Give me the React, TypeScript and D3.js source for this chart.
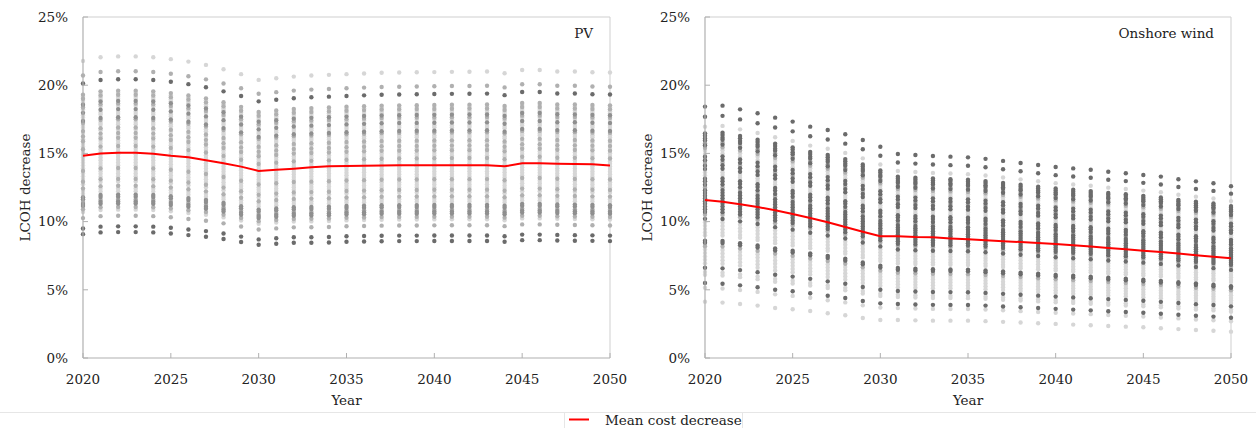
import React from "react";
import * as d3 from "d3";

const years = [2020, 2021, 2022, 2023, 2024, 2025, 2026, 2027, 2028, 2029, 2030, 2031, 2032, 2033, 2034, 2035, 2036, 2037, 2038, 2039, 2040, 2041, 2042, 2043, 2044, 2045, 2046, 2047, 2048, 2049, 2050];
const xTicks = [2020, 2025, 2030, 2035, 2040, 2045, 2050];
const yTicks = [0, 5, 10, 15, 20, 25];

// PV panel
const pvMean = [14.83, 15.0, 15.05, 15.05, 14.98, 14.83, 14.71, 14.5, 14.27, 14.03, 13.71, 13.8, 13.88, 13.98, 14.05, 14.08, 14.1, 14.12, 14.13, 14.13, 14.14, 14.14, 14.14, 14.13, 14.05, 14.28, 14.27, 14.25, 14.22, 14.2, 14.12];
const pvHigh = [21.77, 22.04, 22.1, 22.1, 22.04, 21.9, 21.72, 21.48, 21.16, 20.8, 20.38, 20.5, 20.62, 20.7, 20.75, 20.8, 20.85, 20.9, 20.92, 20.94, 20.95, 20.97, 20.98, 20.99, 20.87, 21.11, 21.11, 20.99, 20.99, 20.94, 20.92];
const pvLow = [9.06, 9.19, 9.21, 9.21, 9.19, 9.11, 8.99, 8.87, 8.7, 8.48, 8.28, 8.36, 8.43, 8.43, 8.45, 8.5, 8.52, 8.54, 8.55, 8.55, 8.56, 8.56, 8.56, 8.56, 8.5, 8.62, 8.62, 8.6, 8.58, 8.57, 8.55];
// scenario values read at 2021 column (ref high 22.04, low 9.19)
const pvScenarioValues = [22.05, 20.97, 20.38, 19.55, 19.4, 19.25, 19.1, 18.95, 18.8, 18.6, 18.45, 18.2, 18.0, 17.85, 17.6, 17.45, 17.25, 17.1, 16.85, 16.7, 16.45, 16.25, 16.1, 15.9, 15.7, 15.5, 15.3, 15.1, 14.9, 14.7, 14.5, 14.3, 14.1, 13.9, 13.7, 13.5, 13.3, 13.1, 12.9, 12.6, 12.4, 12.2, 11.95, 11.8, 11.6, 11.45, 11.3, 11.05, 10.85, 10.4, 9.63, 9.21];
const pvScenarioShade = ["light", "mid", "dark", "mid", "light", "mid", "light", "light", "semi", "mid", "light", "semi", "light", "light", "semi", "mid", "light", "light", "mid", "light", "mid", "light", "mid", "light", "light", "mid", "light", "light", "light", "light", "light", "light", "light", "mid", "light", "light", "light", "mid", "light", "mid", "light", "light", "semi", "semi", "mid", "semi", "semi", "mid", "light", "mid", "dark", "dark"];

// Onshore wind panel
const windMean = [11.58, 11.46, 11.27, 11.07, 10.83, 10.56, 10.26, 9.95, 9.6, 9.26, 8.92, 8.92, 8.87, 8.85, 8.77, 8.7, 8.63, 8.56, 8.5, 8.43, 8.35, 8.27, 8.17, 8.07, 7.97, 7.87, 7.77, 7.66, 7.54, 7.42, 7.31];
const windHigh = [18.43, 18.5, 18.23, 17.94, 17.62, 17.33, 16.96, 16.72, 16.4, 15.98, 15.49, 14.96, 14.88, 14.81, 14.76, 14.71, 14.6, 14.45, 14.3, 14.15, 14.0, 13.9, 13.8, 13.65, 13.55, 13.42, 13.3, 13.1, 12.95, 12.81, 12.6];
const windLow = [4.13, 4.06, 3.96, 3.84, 3.67, 3.57, 3.45, 3.28, 3.13, 2.93, 2.79, 2.79, 2.76, 2.74, 2.74, 2.74, 2.7, 2.65, 2.6, 2.55, 2.5, 2.45, 2.4, 2.35, 2.3, 2.25, 2.18, 2.12, 2.05, 2.0, 1.93];
// scenario values read at 2020 column (ref high 18.43, low 4.13)
const windScenarioValues = [18.43, 17.69, 16.96, 16.47, 16.3, 16.1, 15.95, 15.75, 15.6, 15.4, 15.2, 14.95, 14.75, 14.5, 14.3, 14.1, 13.85, 13.6, 13.4, 13.15, 12.95, 12.7, 12.5, 12.3, 12.1, 11.9, 11.7, 11.5, 11.3, 11.1, 10.9, 10.7, 10.5, 10.2, 9.95, 9.7, 9.45, 9.2, 9.0, 8.6, 8.45, 8.2, 7.95, 7.7, 7.45, 7.2, 6.95, 6.62, 6.3, 6.1, 5.5, 5.15, 4.13];
const windScenarioShade = ["dark", "dark", "light", "dark", "dark", "dark", "dark", "mid", "dark", "mid", "light", "light", "dark", "dark", "mid", "dark", "dark", "light", "light", "dark", "dark", "dark", "mid", "dark", "dark", "dark", "dark", "dark", "dark", "dark", "dark", "dark", "mid", "dark", "light", "light", "light", "light", "light", "dark", "dark", "mid", "light", "light", "light", "light", "light", "dark", "light", "light", "dark", "light", "light"];

const shadeColor: Record<string, string> = { light: "#d6d6d6", mid: "#b0b0b0", semi: "#8f8f8f", dark: "#6b6b6b" };
const shadeOrder: Record<string, number> = { light: 0, mid: 1, semi: 2, dark: 3 };

const FONT = "'DejaVu Serif', serif";
const FS = 13.5;

type PanelProps = {
  x0: number; x1: number; title: string;
  mean: number[]; high: number[]; low: number[];
  scen: number[]; shade: string[]; refIdx: number;
};

function Panel({ x0, x1, title, mean, high, low, scen, shade, refIdx }: PanelProps) {
  const x = d3.scaleLinear().domain([2020, 2050]).range([x0, x1]);
  const y = d3.scaleLinear().domain([0, 25]).range([358, 17]);
  const line = d3.line<number>().x((_, i) => x(years[i])).y((d) => y(d));
  const refHi = high[refIdx];
  const refLo = low[refIdx];
  const dots: { cx: number; cy: number; s: string }[] = [];
  years.forEach((yr, i) => {
    scen.forEach((v, k) => {
      const rel = (v - refLo) / (refHi - refLo);
      const val = low[i] + rel * (high[i] - low[i]);
      dots.push({ cx: x(yr), cy: y(val), s: shade[k] });
    });
  });
  dots.sort((a, b) => shadeOrder[a.s] - shadeOrder[b.s]);
  const [r0, r1] = y.range();
  const midX = (x0 + x1) / 2;
  return (
    <g>
      <line x1={x0} x2={x1} y1={r1} y2={r1} stroke="#cfcfcf" strokeWidth={1} />
      <line x1={x1} x2={x1} y1={r1} y2={r0} stroke="#cfcfcf" strokeWidth={1} />
      {dots.map((d, i) => (
        <circle key={i} cx={d.cx} cy={d.cy} r={2.2} fill={shadeColor[d.s]} />
      ))}
      <line x1={x0} x2={x0} y1={r1} y2={r0} stroke="#b0b0b0" strokeWidth={1.2} />
      <line x1={x0} x2={x1} y1={r0} y2={r0} stroke="#b0b0b0" strokeWidth={1.2} />
      {yTicks.map((t) => (
        <g key={t}>
          <line x1={x0} x2={x0 + 5} y1={y(t)} y2={y(t)} stroke="#b0b0b0" />
          <text x={x0 - 15} y={y(t)} dy="0.36em" textAnchor="end" fontFamily={FONT} fontSize={FS} fill="#222">
            {t}%
          </text>
        </g>
      ))}
      {xTicks.map((t) => (
        <g key={t}>
          <line x1={x(t)} x2={x(t)} y1={r0} y2={r0 - 5} stroke="#b0b0b0" />
          <text x={x(t)} y={384} textAnchor="middle" fontFamily={FONT} fontSize={FS} fill="#222">
            {t}
          </text>
        </g>
      ))}
      <path d={line(mean) || ""} fill="none" stroke="#ff0000" strokeWidth={2} />
      <text x={midX} y={405} textAnchor="middle" fontFamily={FONT} fontSize={FS} fill="#222">Year</text>
      <text transform={`translate(${x0 - 53},${(r0 + r1) / 2}) rotate(-90)`} textAnchor="middle" fontFamily={FONT} fontSize={FS} fill="#222">
        LCOH decrease
      </text>
      <text x={x1 - 17} y={38} textAnchor="end" fontFamily={FONT} fontSize={FS} fill="#222">{title}</text>
    </g>
  );
}

export default function App() {
  return (
    <svg width={1256} height={428} style={{ position: "absolute", left: 0, top: 0, background: "#fff" }}>
      <Panel x0={83} x1={610} title="PV" mean={pvMean} high={pvHigh} low={pvLow} scen={pvScenarioValues} shade={pvScenarioShade} refIdx={1} />
      <Panel x0={705} x1={1231} title="Onshore wind" mean={windMean} high={windHigh} low={windLow} scen={windScenarioValues} shade={windScenarioShade} refIdx={0} />
      <line x1={0} x2={1256} y1={412.5} y2={412.5} stroke="#e6e6e6" />
      <line x1={564.5} x2={564.5} y1={412} y2={428} stroke="#e6e6e6" />
      <line x1={742.5} x2={742.5} y1={412} y2={428} stroke="#e6e6e6" />
      <line x1={569} x2={589} y1={419.5} y2={419.5} stroke="#ff0000" strokeWidth={2} />
      <text x={605} y={424.5} fontFamily={FONT} fontSize={FS} fill="#222">Mean cost decrease</text>
    </svg>
  );
}
